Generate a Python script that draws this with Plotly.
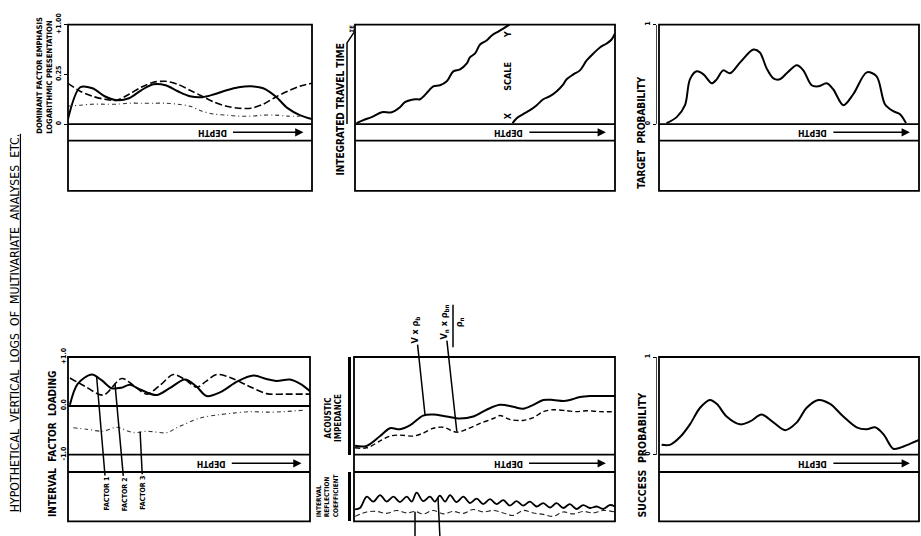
import plotly.graph_objects as go

W, H = 921, 536

# ---------------- data ----------------
# Panel 1 - dominant factor emphasis (logarithmic presentation)
p1_depth = [0, 5, 10, 15, 20, 25, 30, 35, 40, 45, 50, 55, 60, 65, 70, 75, 80, 85, 90, 95, 100]
p1_factor1 = [0.05, 0.37, 0.36, 0.28, 0.24, 0.26, 0.34, 0.40, 0.39, 0.33, 0.28, 0.27, 0.30, 0.34, 0.37, 0.38, 0.36, 0.28, 0.16, 0.09, 0.05]
p1_factor2 = [0.41, 0.33, 0.28, 0.25, 0.24, 0.30, 0.37, 0.42, 0.43, 0.40, 0.34, 0.28, 0.22, 0.18, 0.16, 0.16, 0.20, 0.27, 0.33, 0.38, 0.41]
p1_depth3 = [0, 5, 10, 15, 20, 25, 30, 35, 40, 45, 50, 55, 60, 65, 70, 75, 80, 85, 90, 95]
p1_factor3 = [0.18, 0.19, 0.20, 0.20, 0.20, 0.21, 0.21, 0.21, 0.21, 0.20, 0.18, 0.13, 0.10, 0.09, 0.08, 0.08, 0.09, 0.09, 0.08, 0.08]
p1_tickvals = [0, 0.5, 1]
p1_ticktext = ["0", "0.25", "+1.00"]

# Panel 2 - integrated travel time (curves Y and X)
p2_y_depth = [0.6, 3.2, 6.4, 10.3, 14.1, 17.3, 19.2, 23.1, 25.0, 28.2, 30.1, 32.7, 35.3, 37.8, 40.4, 43.0, 44.2, 46.2, 48.1, 50.6, 52.6, 55.1, 57.0, 59.4]
p2_y_time = [0.01, 0.04, 0.07, 0.12, 0.12, 0.17, 0.22, 0.25, 0.25, 0.33, 0.38, 0.39, 0.43, 0.53, 0.55, 0.61, 0.67, 0.71, 0.80, 0.84, 0.89, 0.93, 0.96, 1.0]
p2_x_depth = [60.6, 62.2, 64.7, 67.3, 69.9, 72.4, 75.0, 77.6, 80.1, 81.4, 84.0, 86.5, 89.1, 91.7, 94.2, 96.8, 98.7, 100]
p2_x_time = [0.01, 0.06, 0.10, 0.14, 0.19, 0.25, 0.28, 0.33, 0.40, 0.45, 0.50, 0.54, 0.64, 0.71, 0.77, 0.81, 0.85, 0.91]

# Panel 3 - target probability
p3_depth = [2.9, 6.8, 10.0, 11.9, 14.5, 17.1, 20.3, 22.2, 24.7, 27.3, 31.2, 36.3, 38.8, 41.4, 44.0, 46.5, 49.1, 53.0, 55.5, 58.7, 61.3, 64.5, 67.0, 70.9, 74.7, 79.9, 83.7, 86.9, 90.1, 92.7, 95.0]
p3_prob = [0.01, 0.07, 0.19, 0.45, 0.53, 0.50, 0.41, 0.45, 0.54, 0.51, 0.62, 0.75, 0.72, 0.56, 0.46, 0.45, 0.51, 0.59, 0.54, 0.39, 0.38, 0.41, 0.35, 0.19, 0.30, 0.52, 0.48, 0.20, 0.13, 0.10, 0.01]
p3_tickvals = [0, 1]
p3_ticktext = ["0", "1"]

# Panel 4 - interval factor loading
p4_f1_depth = [0.8, 4, 9.8, 14, 18, 22, 25.6, 30, 36.6, 42, 48.3, 53, 57.3, 63, 70, 76.6, 82, 86.2, 91.7, 96, 100]
p4_f1 = [0.02, 0.45, 0.64, 0.52, 0.36, 0.37, 0.43, 0.33, 0.22, 0.36, 0.54, 0.40, 0.20, 0.28, 0.50, 0.62, 0.55, 0.51, 0.54, 0.45, 0.30]
p4_f2_depth = [0.8, 7, 14.6, 22.2, 27, 32.5, 38, 43.5, 48, 53.2, 57, 61.4, 67, 74, 82.1, 90, 100]
p4_f2 = [0.57, 0.40, 0.22, 0.56, 0.42, 0.24, 0.42, 0.64, 0.55, 0.38, 0.50, 0.64, 0.58, 0.42, 0.25, 0.24, 0.24]
p4_f3_depth = [2.2, 7.7, 14.6, 20.1, 27, 32.5, 40.8, 44.9, 54.5, 61.4, 68.3, 75.2, 82.1, 89, 97.2]
p4_f3 = [-0.45, -0.48, -0.52, -0.44, -0.55, -0.52, -0.55, -0.45, -0.25, -0.19, -0.15, -0.12, -0.13, -0.12, -0.09]
p4_tickvals = [-1, 0, 1]
p4_ticktext = ["-1.0", "0.0", "+1.0"]
p4_labels = ["FACTOR 1", "FACTOR 2", "FACTOR 3"]

# Panel 5 - acoustic impedance and interval reflection coefficient
p5_imp_depth_a = [0.4, 4.9, 10.0, 13.8, 17.6, 21.4, 26.5, 30.4, 35.5, 40.6, 45.7, 50.8, 55.9, 61.0, 64.8, 68.7, 72.5, 76.3, 80.2, 82.7, 86.6, 90.4, 95.5, 100]
p5_imp_a = [0.09, 0.09, 0.19, 0.27, 0.26, 0.30, 0.40, 0.41, 0.39, 0.37, 0.39, 0.46, 0.51, 0.49, 0.47, 0.51, 0.56, 0.56, 0.55, 0.56, 0.59, 0.60, 0.60, 0.60]
p5_imp_depth_b = [0.4, 4.9, 10.0, 13.8, 17.6, 22.7, 26.5, 30.4, 34.2, 39.3, 43.2, 48.3, 53.4, 55.9, 59.7, 64.8, 68.7, 72.5, 76.3, 81.5, 85.3, 89.1, 94.2, 100]
p5_imp_b = [0.07, 0.07, 0.14, 0.19, 0.20, 0.19, 0.22, 0.27, 0.28, 0.23, 0.26, 0.32, 0.37, 0.40, 0.36, 0.35, 0.38, 0.44, 0.46, 0.45, 0.44, 0.45, 0.44, 0.44]
p5_refl_depth_a = [0.4, 2.3, 4.9, 7.4, 10.0, 12.5, 15.1, 17.6, 20.2, 22.1, 24.0, 26.5, 29.1, 31.0, 32.9, 34.9, 36.8, 39.3, 41.9, 44.4, 47.0, 49.5, 52.1, 54.6, 57.2, 59.7, 62.3, 64.8, 67.4, 70.0, 72.5, 75.1, 77.6, 80.2, 82.7, 85.3, 87.8, 90.4, 93.0, 95.5, 98.0, 100]
p5_refl_a = [0.24, 0.27, 0.50, 0.40, 0.53, 0.40, 0.50, 0.39, 0.50, 0.40, 0.58, 0.41, 0.50, 0.40, 0.52, 0.40, 0.53, 0.39, 0.50, 0.37, 0.46, 0.35, 0.45, 0.35, 0.43, 0.32, 0.41, 0.32, 0.40, 0.30, 0.37, 0.28, 0.37, 0.27, 0.35, 0.25, 0.33, 0.27, 0.30, 0.25, 0.33, 0.30]
p5_refl_depth_b = [0.4, 4.9, 8.7, 12.5, 16.3, 20.2, 23.4, 26.5, 30.4, 34.2, 38.0, 41.9, 45.7, 49.5, 53.4, 57.2, 61.0, 64.8, 68.7, 72.5, 76.3, 80.2, 84.0, 87.8, 91.7, 95.5, 100]
p5_refl_b = [0.10, 0.19, 0.20, 0.16, 0.22, 0.17, 0.20, 0.15, 0.22, 0.15, 0.20, 0.16, 0.24, 0.19, 0.22, 0.17, 0.12, 0.22, 0.17, 0.14, 0.10, 0.19, 0.15, 0.20, 0.17, 0.22, 0.19]

# Panel 6 - success probability
p6_depth = [1.0, 4.2, 8.1, 11.9, 15.8, 19.6, 22.2, 26.0, 31.2, 35.0, 39.5, 44.0, 48.5, 53.0, 56.8, 61.3, 65.8, 70.9, 76.0, 79.9, 83.1, 86.3, 90.1, 92.7, 96.5, 100]
p6_prob = [0.10, 0.10, 0.18, 0.31, 0.48, 0.56, 0.52, 0.39, 0.31, 0.34, 0.41, 0.33, 0.25, 0.33, 0.48, 0.56, 0.52, 0.39, 0.28, 0.26, 0.28, 0.21, 0.06, 0.07, 0.11, 0.15]
p6_tickvals = [0, 1]
p6_ticktext = ["0", "1"]

# ---------------- layout geometry (pixels) ----------------
FONT = "Liberation Sans Narrow, DejaVu Sans Condensed, Arial Narrow, Liberation Sans, sans-serif"
TOP = dict(top=13, mid=116, band=133, bot=185)
BOT = dict(top=357, mid=458, band=476, bot=527)
panels = {
    1: dict(x0=68, x1=312, **TOP),
    2: dict(x0=355, x1=615, **TOP),
    3: dict(x0=659, x1=919, **TOP),
    4: dict(x0=68, x1=310, **BOT),
    5: dict(x0=354, x1=615, **BOT),
    6: dict(x0=659, x1=919, **BOT),
}


def px(x):
    return x / W


def py(y):
    return 1 - y / H


fig = go.Figure()

SOLID = dict(color="black", width=2, shape="spline", smoothing=0.9)
DASH = dict(color="black", width=1.6, dash="7px,3px", shape="spline", smoothing=0.9)
DOT = dict(color="#333", width=1.1, dash="4px,3px,1px,3px", shape="spline", smoothing=0.9)


def add(x, y, n, line):
    ax = "" if n == 1 else str(n)
    fig.add_trace(go.Scatter(x=x, y=y, mode="lines", line=line, xaxis="x" + ax,
                             yaxis="y" + ax, showlegend=False, hoverinfo="skip"))


add(p1_depth, p1_factor1, 1, SOLID)
add(p1_depth, p1_factor2, 1, DASH)
add(p1_depth3, p1_factor3, 1, DOT)
add(p2_y_depth, p2_y_time, 2, dict(color="black", width=2, shape="spline", smoothing=1))
add(p2_x_depth, p2_x_time, 2, dict(color="black", width=2, shape="spline", smoothing=1))
add(p3_depth, p3_prob, 3, SOLID)
add(p4_f1_depth, p4_f1, 4, SOLID)
add(p4_f2_depth, p4_f2, 4, DASH)
add(p4_f3_depth, p4_f3, 4, DOT)
add(p5_imp_depth_a, p5_imp_a, 5, SOLID)
add(p5_imp_depth_b, p5_imp_b, 5, dict(color="black", width=1.4, dash="5px,3px", shape="spline", smoothing=0.9))
add(p6_depth, p6_prob, 6, SOLID)
add(p5_refl_depth_a, p5_refl_a, 7, dict(color="black", width=1.8, shape="spline", smoothing=1))
add(p5_refl_depth_b, p5_refl_b, 7, dict(color="#222", width=1.1, dash="5px,3px", shape="spline", smoothing=1))

layout = dict(width=W, height=H, margin=dict(l=0, r=0, t=0, b=0),
              paper_bgcolor="white", plot_bgcolor="white", showlegend=False,
              font=dict(family=FONT, color="black"))


def yaxis(p, rng, tickvals=None, ticktext=None, position=None, showline=False, lw=1,
          ticks="outside", lcolor="black"):
    d = dict(domain=[py(p["mid"]), py(p["top"])], range=rng, showgrid=False, zeroline=False,
             showline=showline, linecolor=lcolor, linewidth=lw, fixedrange=True,
             tickangle=-90, tickfont=dict(size=7, family=FONT, weight="bold"))
    if tickvals is not None:
        d.update(tickvals=tickvals, ticktext=ticktext, ticks=ticks, ticklen=3, tickwidth=1,
                 tickcolor="black")
    else:
        d.update(showticklabels=False, ticks="")
    if position is not None:
        d.update(anchor="free", position=position)
    return d


for n, p in panels.items():
    k = "" if n == 1 else str(n)
    layout["xaxis" + k] = dict(domain=[px(p["x0"]), px(p["x1"])], range=[0, 100], visible=False,
                               anchor="y" + k, fixedrange=True)

layout["yaxis"] = yaxis(panels[1], [0, 1], p1_tickvals, p1_ticktext)
layout["yaxis2"] = yaxis(panels[2], [0, 1])
layout["yaxis3"] = yaxis(panels[3], [0, 1], p3_tickvals, p3_ticktext, position=px(656),
                         showline=True, lcolor="#444")
layout["yaxis4"] = yaxis(panels[4], [-1, 1], p4_tickvals, p4_ticktext, ticks="")
layout["yaxis4"].update(zeroline=True, zerolinecolor="black", zerolinewidth=1.8)
layout["yaxis5"] = yaxis(panels[5], [0, 1], position=px(349), showline=True, lw=2.5)
layout["yaxis6"] = yaxis(panels[6], [0, 1], p6_tickvals, p6_ticktext, position=px(656),
                         showline=True, lcolor="#444")
# lower box of panel 5 (reflection coefficient)
p5 = panels[5]
layout["xaxis7"] = dict(domain=[px(p5["x0"]), px(p5["x1"])], range=[0, 100], visible=False,
                        anchor="y7", fixedrange=True)
layout["yaxis7"] = dict(domain=[py(p5["bot"]), py(p5["band"])], range=[0, 1], showgrid=False,
                        zeroline=False, showticklabels=False, showline=True, linecolor="black",
                        linewidth=2.5, anchor="free", position=px(349), fixedrange=True)

shapes = []
for n, p in panels.items():
    shapes.append(dict(type="rect", xref="paper", yref="paper", x0=px(p["x0"]), x1=px(p["x1"]),
                       y0=py(p["bot"]), y1=py(p["top"]), line=dict(color="black", width=1.8)))
    for yy in (p["mid"], p["band"]):
        shapes.append(dict(type="line", xref="paper", yref="paper", x0=px(p["x0"]), x1=px(p["x1"]),
                           y0=py(yy), y1=py(yy), line=dict(color="black", width=1.8)))
# bracket beside "INTEGRATED TRAVEL TIME"
shapes.append(dict(type="path", xref="paper", yref="paper",
                   path=f"M {px(347)},{py(116)} L {px(347)},{py(32)} L {px(354)},{py(21)}",
                   line=dict(color="black", width=1.5)))
# fraction bar of Vn x pbn / pn
shapes.append(dict(type="line", xref="paper", yref="paper", x0=px(453), x1=px(453),
                   y0=py(347), y1=py(303), line=dict(color="black", width=1.5)))
# pointer lines from the reflection-coefficient curves to labels below the page
shapes.append(dict(type="line", xref="paper", yref="paper", x0=px(415), x1=px(415),
                   y0=py(517), y1=py(545), line=dict(color="black", width=1.5)))
shapes.append(dict(type="line", xref="paper", yref="paper", x0=px(438), x1=px(440),
                   y0=py(502), y1=py(545), line=dict(color="black", width=1.5)))
layout["shapes"] = shapes

ann = []


def text(x, y, t, size=8, angle=-90, bold=True, align="center", **kw):
    ann.append(dict(x=px(x), y=py(y), xref="paper", yref="paper", text=t, showarrow=False,
                    textangle=angle, align=align, xanchor="center", yanchor="middle",
                    font=dict(size=size, family=FONT, weight="bold" if bold else "normal"), **kw))


# title
text(15, 322, "<u>HYPOTHETICAL  VERTICAL  LOGS  OF  MULTIVARIATE  ANALYSES  ETC.</u>", size=12.2, bold=False)
# axis titles
text(45, 66, "DOMINANT FACTOR EMPHASIS<br>LOGARITHMIC PRESENTATION", size=7.6, align="left")
text(341, 101, "INTEGRATED TRAVEL TIME", size=10)
text(351, 17, "ΣE", size=6)
text(508, 67, "SCALE", size=9)
text(508, 24, "Y", size=9)
text(508, 108, "X", size=9)
text(642, 125, "TARGET  PROBABILITY", size=10)
text(53, 447, "INTERVAL  FACTOR  LOADING", size=10)
text(334, 420, "ACOUSTIC<br>IMPEDANCE", size=8)
text(327, 501, "INTERVAL<br>REFLECTION<br>COEFFICIENT", size=6.5, align="left")
text(642, 459, "SUCCESS  PROBABILITY", size=10.5)
text(459, 321, "ρ<sub>n</sub>", size=9)

# DEPTH bands: label with arrow pointing in the direction of increasing depth
for n, p in panels.items():
    w = p["x1"] - p["x0"]
    yc = (p["mid"] + p["band"]) / 2
    ann.append(dict(x=px(p["x0"] + 0.965 * w), y=py(yc), xref="paper", yref="paper",
                    text="DEPTH", textangle=180, showarrow=True, ax=-0.375 * w, ay=0,
                    arrowhead=2, arrowsize=1.1, arrowwidth=1.5, arrowcolor="black",
                    standoff=0, borderpad=6,
                    font=dict(size=8.5, family=FONT, weight="bold")))

# factor labels in panel 4
factor_pts = [(11.8, 0.61, 10, 118), (19.4, 0.46, 10, 111), (29.8, -0.53, 3, 61)]
for lab, (dx, vy, axo, ayo) in zip(p4_labels, factor_pts):
    ann.append(dict(x=dx, y=vy, xref="x4", yref="y4", text=lab, showarrow=True, ax=axo, ay=ayo,
                    textangle=-90, arrowhead=0, arrowwidth=1.5, arrowcolor="black",
                    font=dict(size=7, family=FONT, weight="bold")))

# impedance pointers
ann.append(dict(x=27.2, y=0.41, xref="x5", yref="y5", text="V x ρ<sub>b</sub>", showarrow=True,
                ax=-9, ay=-85, textangle=-90, arrowhead=0, arrowwidth=1.5, arrowcolor="black",
                font=dict(size=9, family=FONT, weight="bold")))
ann.append(dict(x=39.4, y=0.235, xref="x5", yref="y5", text="V<sub>n</sub> x ρ<sub>bn</sub>",
                showarrow=True, ax=-12, ay=-110, textangle=-90, arrowhead=0, arrowwidth=1.5,
                arrowcolor="black", font=dict(size=9, family=FONT, weight="bold")))

layout["annotations"] = ann
fig.update_layout(**layout)

fig.write_html("out.html", config={"displayModeBar": False, "staticPlot": True},
               post_script="document.body.style.margin='0';document.body.style.overflow='hidden';")
